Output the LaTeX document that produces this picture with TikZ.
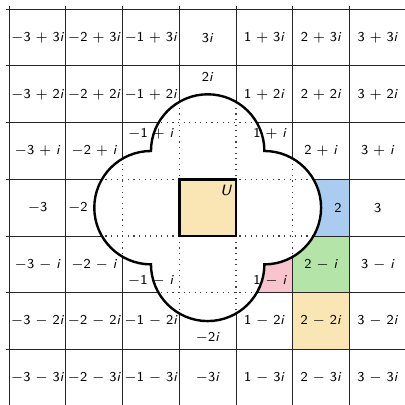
\documentclass[tikz,border=0pt]{standalone}
\usetikzlibrary{positioning}
\definecolor{cYellow}{RGB}{250,230,180}
\definecolor{cBlue}  {RGB}{170,204,240}
\definecolor{cGreen} {RGB}{180,228,168}
\definecolor{cPink}  {RGB}{250,196,206}
% Gaussian integer label a+bi
\newcommand\gRe[1]{\ifnum#1<0 $-$\the\numexpr-#1\relax\else#1\fi}
\newcommand\gIm[1]{\ifnum#1=1 \textit{i}\else#1\textit{i}\fi}
\newcommand\gauss[2]{%
  \ifnum#2=0 \gRe{#1}%
  \else\ifnum#1=0 \ifnum#2<0 $-$\gIm{\the\numexpr-#2\relax}\else\gIm{#2}\fi
  \else\gRe{#1} \ifnum#2<0 $-$ \gIm{\the\numexpr-#2\relax}\else $+$ \gIm{#2}\fi
  \fi\fi}
\newcommand\blobpath{(1,1) arc[start angle=0,end angle=180,radius=1]
  arc[start angle=90,end angle=270,radius=1]
  arc[start angle=180,end angle=360,radius=1]
  arc[start angle=-90,end angle=90,radius=1] -- cycle}

\begin{document}
\begin{tikzpicture}[
  lbl/.style={font=\fontsize{6.8}{8}\selectfont\sffamily,inner sep=1pt},
  gridline/.style={black!85,line width=0.5pt},
  inner/.style={black!75,line width=0.6pt,dash pattern=on 0.6pt off 2.2pt},
  blob/.style={line width=1.2pt},
]
\useasboundingbox (-3.663,-3.48) rectangle (3.48,3.663);
% coloured cells
\fill[cBlue]  (1.5,-0.5) rectangle (2.5,0.5);
\fill[cPink]  (0.5,-1.5) rectangle (1.5,-0.5);
\fill[cGreen] (1.5,-1.5) rectangle (2.5,-0.5);
\fill[cYellow](1.5,-2.5) rectangle (2.5,-1.5);
% lattice cells
\foreach \k in {-3.5,-2.5,...,3.5} {
  \draw[gridline] (\k,-3.55) -- (\k,3.55);
  \draw[gridline] (-3.55,\k) -- (3.55,\k);
}
% the four unit discs
\fill[white] \blobpath;
\begin{scope}
  \clip \blobpath;
  \foreach \k in {-1.5,-0.5,0.5,1.5} {
    \draw[inner] (\k,-2) -- (\k,2);
    \draw[inner] (-2,\k) -- (2,\k);
  }
\end{scope}
\draw[blob] \blobpath;
% fundamental square
\draw[blob,fill=cYellow] (-0.5,-0.5) rectangle (0.5,0.5);
\node[lbl,font=\fontsize{7.5}{9}\selectfont\sffamily\itshape] (u) at (0.32,0.3) {U};
% labels
\foreach \x in {-3,...,3} {
  \foreach \y in {-3,...,3} {
    \pgfmathtruncatemacro\dist{abs(\x)+abs(\y)}
    \ifnum\dist>2
      \node[lbl] (z\x\y) at (\x,\y) {\gauss{\x}{\y}};
    \fi
  }
}
\node[lbl] (z02)  at (0,2.3)   {\gauss{0}{2}};
\node[lbl] (z0-2) at (0,-2.3)  {\gauss{0}{-2}};
\node[lbl] (z-20) at (-2.29,0) {\gauss{-2}{0}};
\node[lbl] (z20)  at (2.3,0)   {\gauss{2}{0}};
\node[lbl] (z-11) at (-1,1.3)    {\gauss{-1}{1}};
\node[lbl] (z11)  at (1.1,1.3)   {\gauss{1}{1}};
\node[lbl] (z-1-1) at (-1,-1.28) {\gauss{-1}{-1}};
\node[lbl] (z1-1) at (1.1,-1.28) {\gauss{1}{-1}};
\end{tikzpicture}
\end{document}
